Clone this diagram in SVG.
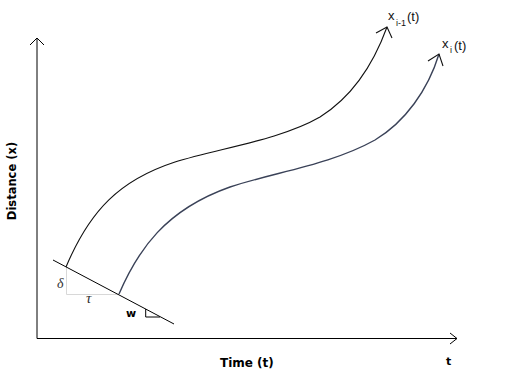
<svg xmlns="http://www.w3.org/2000/svg" width="516" height="381" viewBox="0 0 516 381">
<style>
.ln{fill:none;stroke:#000;stroke-width:1}
.cv{fill:none;stroke:#111;stroke-width:1.1}
.cv2{fill:none;stroke:#3a4258;stroke-width:1.4}
.aux{fill:none;stroke:#d8d8d8;stroke-width:1}
.lab{font-family:"DejaVu Sans",sans-serif;font-weight:bold;fill:#000}
.sub{font-family:"Liberation Sans",Arial,sans-serif;fill:#111}
.gr{font-family:"Liberation Serif","Times New Roman",serif;font-style:italic;fill:#333}
</style>
<rect width="516" height="381" fill="#fff"/>
<g id="axes">
<polyline class="ln" points="37,338.5 37,38"/>
<polyline class="ln" points="30,45 37,38 44,45"/>
<polyline class="ln" points="37,338.5 457,338.5"/>
<polyline class="ln" points="450,333 457,338.5 450,344"/>
</g>
<g id="helpers">
<polyline class="aux" points="66.5,267 66.5,294.5 119,294.5"/>
<line class="ln" x1="53" y1="260" x2="174" y2="324"/>
<polyline class="ln" points="145.7,309 145.7,317 160,317"/>
</g>
<g id="connectors">
<path class="cv" d="M66,267 C90,210 120,180 175,162 C220,148 280,140 320,117 C355,95 375,60 387,27"/>
<polyline class="cv" points="376,33 387,27 392,38"/>
<path class="cv2" d="M119,294 C138,250 165,210 230,187 C275,172 330,165 375,140 C405,122 428,90 439,54"/>
<polyline class="cv" points="428,61 439,54 443,66"/>
</g>
<g id="labels">
<text class="lab" font-size="11.5" transform="translate(16,181) rotate(-90)" text-anchor="middle">Distance (x)</text>
<text class="lab" font-size="12" x="220" y="367">Time (t)</text>
<text class="lab" font-size="11" x="446" y="365">t</text>
<text class="lab" font-size="11" x="126" y="317">w</text>
<text class="gr" font-size="14" x="57" y="288">δ</text>
<text class="gr" font-size="15" x="86" y="303">τ</text>
<text class="sub" font-size="13" x="388" y="20">x<tspan font-size="9" x="396" y="26">i-1</tspan><tspan x="407" y="21">(t)</tspan></text>
<text class="sub" font-size="13" x="442" y="48">x<tspan font-size="9" x="450" y="53">i</tspan><tspan x="454" y="50">(t)</tspan></text>
</g>
</svg>
